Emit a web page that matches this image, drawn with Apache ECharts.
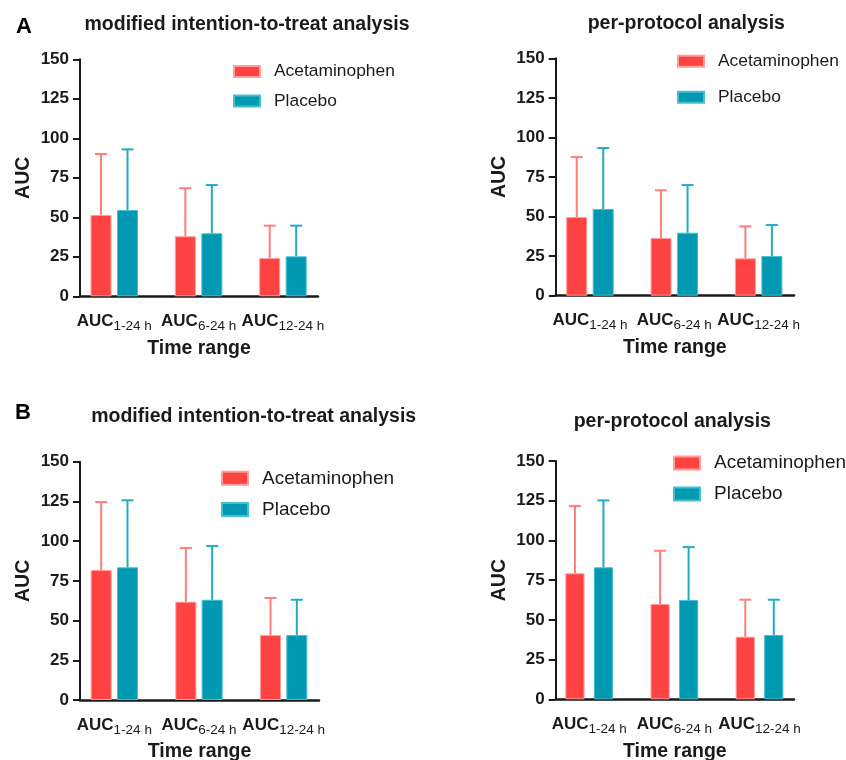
<!DOCTYPE html>
<html><head><meta charset="utf-8">
<script src="https://cdn.jsdelivr.net/npm/echarts@6/dist/echarts.min.js"></script>
<style>html,body{margin:0;padding:0;background:#fff}#c{width:846px;height:760px}</style>
</head><body><div id="c"></div><script>
// ---------------- data ----------------
const categories = ['AUC1-24 h', 'AUC6-24 h', 'AUC12-24 h'];
const yTicks = [0, 25, 50, 75, 100, 125, 150];
const seriesNames = ['Acetaminophen', 'Placebo'];
const panelLetters = ['A', 'B'];
const panelTitles = ['modified intention-to-treat analysis', 'per-protocol analysis',
                     'modified intention-to-treat analysis', 'per-protocol analysis'];
const xAxisTitle = 'Time range';
const yAxisTitle = 'AUC';

// Panel A, modified ITT
const acetMeanAmitt = [51.5, 38.0, 24.2];
const acetUpperAmitt = [90.1, 68.4, 44.7];
const placMeanAmitt = [54.6, 39.9, 25.3];
const placUpperAmitt = [93.0, 70.4, 44.7];
// Panel A, per-protocol
const acetMeanApp = [49.7, 36.5, 23.6];
const acetUpperApp = [87.6, 66.6, 43.8];
const placMeanApp = [54.8, 39.8, 25.1];
const placUpperApp = [93.3, 69.9, 44.7];
// Panel B, modified ITT
const acetMeanBmitt = [81.8, 61.9, 40.9];
const acetUpperBmitt = [124.6, 95.7, 64.2];
const placMeanBmitt = [83.5, 63.1, 40.9];
const placUpperBmitt = [125.7, 96.9, 63.1];
// Panel B, per-protocol
const acetMeanBpp = [79.3, 60.0, 39.4];
const acetUpperBpp = [121.6, 93.5, 62.7];
const placMeanBpp = [83.1, 62.5, 40.5];
const placUpperBpp = [125.2, 95.8, 62.7];

// ---------------- styles / layout ----------------
const FONT = 'Liberation Sans, Arial, Helvetica, sans-serif';
const INK = '#1a1a1a';
const RED = '#ff4242', RED_BORDER = '#ff9c9c', RED_ERR = '#ff7d7d';
const TEAL = '#0099b1', TEAL_BORDER = '#45bfd2', TEAL_ERR = '#22abc4';

const panelData = [
  [acetMeanAmitt, acetUpperAmitt, placMeanAmitt, placUpperAmitt],
  [acetMeanApp, acetUpperApp, placMeanApp, placUpperApp],
  [acetMeanBmitt, acetUpperBmitt, placMeanBmitt, placUpperBmitt],
  [acetMeanBpp, acetUpperBpp, placMeanBpp, placUpperBpp]
];

const layouts = [
  {fl: 80, ft: 59.3, fw: 238, fh: 237, dl: 72.1, dw: 253, bw: 21, gap: 5.5,
   lg: {left: 233, top: 61.5, fs: 17.4, lh: 20, gap: 9.5, ih: 11},
   title: [247, 25]},
  {fl: 555.7, ft: 58.3, fw: 238.3, fh: 237.4, dl: 547.8, dw: 253, bw: 21, gap: 5.5,
   lg: {left: 677, top: 51.3, fs: 17.4, lh: 20, gap: 16, ih: 11},
   title: [686.3, 24]},
  {fl: 80, ft: 461.7, fw: 239, fh: 238.3, dl: 72, dw: 254, bw: 21, gap: 5.3,
   lg: {left: 221, top: 467.3, fs: 19, lh: 22, gap: 9.3, ih: 13},
   title: [253.7, 417]},
  {fl: 555.7, ft: 461, fw: 238.3, fh: 238.3, dl: 546.6, dw: 255.5, bw: 19.2, gap: 9.3,
   lg: {left: 673, top: 452, fs: 19, lh: 22, gap: 9, ih: 13},
   title: [672.3, 422]}
];
const letterPos = [[24, 27], [23, 412.5]];

function errRender(offset, color, cap) {
  return function (params, api) {
    const c = api.value(0), m = api.value(1), u = api.value(2);
    const p0 = api.coord([c, m]);
    const p1 = api.coord([c, u]);
    const x = p0[0] + offset;
    const st = {stroke: color, lineWidth: 2, fill: null};
    return {type: 'group', children: [
      {type: 'line', shape: {x1: x, y1: p0[1], x2: x, y2: p1[1]}, style: st},
      {type: 'line', shape: {x1: x - cap / 2, y1: p1[1], x2: x + cap / 2, y2: p1[1]}, style: st}
    ]};
  };
}

const grid = [], xAxis = [], yAxis = [], series = [], legend = [], graphic = [];
const yMin = yTicks[0], yMax = yTicks[yTicks.length - 1], yInt = yTicks[1] - yTicks[0];

layouts.forEach((L, p) => {
  const fi = 2 * p, di = 2 * p + 1;
  grid.push({left: L.fl, top: L.ft, width: L.fw, height: L.fh, outerBoundsMode: 'none', containLabel: false});
  grid.push({left: L.dl, top: L.ft, width: L.dw, height: L.fh, outerBoundsMode: 'none', containLabel: false});
  // frame axes
  xAxis.push({gridIndex: fi, type: 'category', data: categories,
    axisLine: {show: true, onZero: false, lineStyle: {color: INK, width: 2.5}},
    axisTick: {show: false}, axisLabel: {show: false}, splitLine: {show: false},
    name: xAxisTitle, nameLocation: 'middle', nameGap: 41,
    nameTextStyle: {fontFamily: FONT, fontWeight: 'bold', fontSize: 19.5, color: INK, lineHeight: 22}});
  yAxis.push({gridIndex: fi, type: 'value', min: yMin, max: yMax, interval: yInt,
    axisLine: {show: true, lineStyle: {color: INK, width: 2}},
    axisTick: {show: true, length: 7, lineStyle: {color: INK, width: 2}},
    axisLabel: {margin: 11, fontFamily: FONT, fontWeight: 'bold', fontSize: 17, color: INK},
    splitLine: {show: false},
    name: yAxisTitle, nameLocation: 'middle', nameRotate: 90, nameGap: 45,
    nameTextStyle: {fontFamily: FONT, fontWeight: 'bold', fontSize: 19.5, color: INK, lineHeight: 22}});
  // data axes
  xAxis.push({gridIndex: di, type: 'category', data: categories,
    axisLine: {show: false}, axisTick: {show: false}, splitLine: {show: false},
    axisLabel: {margin: 13, interval: 0,
      formatter: v => '{a|AUC}{b|' + v.replace('AUC', '') + '}',
      rich: {
        a: {fontFamily: FONT, fontWeight: 'bold', fontSize: 17, color: INK, lineHeight: 24},
        b: {fontFamily: FONT, fontSize: 13.5, color: INK, lineHeight: 15, verticalAlign: 'bottom'}
      }}});
  yAxis.push({gridIndex: di, type: 'value', min: yMin, max: yMax, interval: yInt, show: false});

  const [am, au, pm, pu] = panelData[p];
  const off = (L.bw + L.gap) / 2;
  const gapPct = (L.gap / L.bw * 100).toFixed(1) + '%';
  series.push({type: 'bar', name: seriesNames[0], xAxisIndex: di, yAxisIndex: di, data: am,
    barWidth: L.bw, barGap: gapPct,
    itemStyle: {color: RED, borderColor: RED_BORDER, borderWidth: 1}, z: 2});
  series.push({type: 'bar', name: seriesNames[1], xAxisIndex: di, yAxisIndex: di, data: pm,
    barWidth: L.bw, barGap: gapPct,
    itemStyle: {color: TEAL, borderColor: TEAL_BORDER, borderWidth: 1}, z: 2});
  series.push({type: 'custom', name: seriesNames[0] + ' SD ' + p, xAxisIndex: di, yAxisIndex: di,
    renderItem: errRender(-off, RED_ERR, 12), encode: {x: 0, y: [1, 2]},
    data: am.map((v, i) => [i, v, au[i]]), z: 3, silent: true});
  series.push({type: 'custom', name: seriesNames[1] + ' SD ' + p, xAxisIndex: di, yAxisIndex: di,
    renderItem: errRender(off, TEAL_ERR, 12), encode: {x: 0, y: [1, 2]},
    data: pm.map((v, i) => [i, v, pu[i]]), z: 3, silent: true});

  legend.push({data: seriesNames, orient: 'vertical', left: L.lg.left, top: L.lg.top, padding: 0,
    itemWidth: 26, itemHeight: L.lg.ih, itemGap: L.lg.gap, icon: 'rect',
    textStyle: {fontFamily: FONT, fontSize: L.lg.fs, color: INK, lineHeight: L.lg.lh, padding: [0, 0, 0, 9]}});

  graphic.push({type: 'text', x: L.title[0], y: L.title[1],
    style: {text: panelTitles[p], fontFamily: FONT, fontWeight: 'bold', fontSize: 19.5, fill: INK,
      align: 'center', verticalAlign: 'middle'}});
});
panelLetters.forEach((t, i) => {
  graphic.push({type: 'text', x: letterPos[i][0], y: letterPos[i][1],
    style: {text: t, fontFamily: FONT, fontWeight: 'bold', fontSize: 22, fill: '#000',
      align: 'center', verticalAlign: 'middle'}});
});

const chart = echarts.init(document.getElementById('c'), null, {renderer: 'canvas'});
chart.setOption({backgroundColor: '#fff', animation: false, grid, xAxis, yAxis, series, legend, graphic});
</script></body></html>
